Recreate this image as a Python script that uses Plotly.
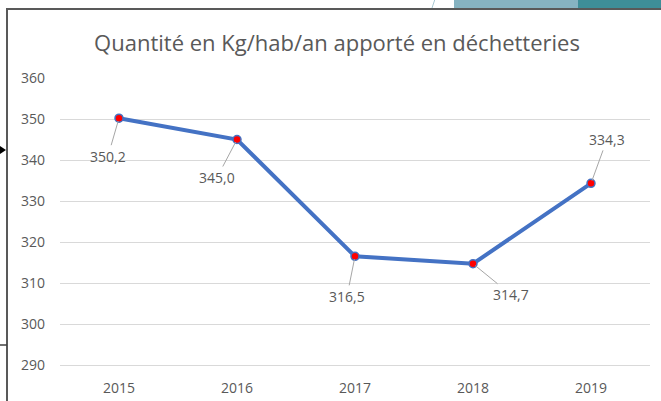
import plotly.graph_objects as go

years = ["2015", "2016", "2017", "2018", "2019"]
values = [350.2, 345.0, 316.5, 314.7, 334.3]
labels = ["350,2", "345,0", "316,5", "314,7", "334,3"]
# label offsets (pixels) from point
offs_x = [-11, -20, -8, 38, 16]
offs_y = [38, 38, 40, 31, -44]

W, H = 661, 401
ML, MR, MT, MB = 60, 11, 78, 36
PW, PH = W - ML - MR, H - MT - MB

def px(x):
    return (x - ML) / PW

def py(y):
    return (H - MB - y) / PH

FONT = "Open Sans"
GREY = "#595959"

fig = go.Figure()
fig.add_trace(go.Scatter(
    x=years, y=values, mode="lines+markers",
    line=dict(color="#4472C4", width=4),
    marker=dict(color="#FF0000", size=8, line=dict(color="#4472C4", width=1.5)),
    hoverinfo="skip", showlegend=False,
))

for i, (y, t, ox, oy) in enumerate(zip(values, labels, offs_x, offs_y)):
    fig.add_annotation(x=i, y=y, xref="x", yref="y", text=t, showarrow=True,
                       arrowhead=0, arrowwidth=1, arrowcolor="#a6a6a6",
                       ax=ox, ay=oy,
                       font=dict(family=FONT, size=14, color=GREY), standoff=3)

shapes = [
    # chart border
    dict(type="rect", xref="paper", yref="paper",
         x0=px(7), x1=px(700), y0=py(440), y1=py(9),
         line=dict(color="#595959", width=2), fillcolor="rgba(0,0,0,0)", layer="below"),
    # decorative strip top-right
    dict(type="rect", xref="paper", yref="paper",
         x0=px(454), x1=px(578), y0=py(8), y1=py(-2),
         line=dict(width=0), fillcolor="#86b3c1", layer="below"),
    dict(type="rect", xref="paper", yref="paper",
         x0=px(578), x1=px(662), y0=py(8), y1=py(-2),
         line=dict(width=0), fillcolor="#3e8e98", layer="below"),
    dict(type="line", xref="paper", yref="paper",
         x0=px(432), x1=px(435), y0=py(8), y1=py(-1),
         line=dict(color="#a9c8d3", width=1)),
    # left side arrow and line
    dict(type="path", xref="paper", yref="paper",
         path=f"M {px(0)} {py(146)} L {px(6)} {py(150)} L {px(0)} {py(154)} Z",
         fillcolor="#000000", line=dict(width=0)),
    dict(type="line", xref="paper", yref="paper",
         x0=px(0), x1=px(7), y0=py(345), y1=py(345),
         line=dict(color="#404040", width=1.5)),
]

fig.update_layout(
    width=W, height=H,
    margin=dict(l=ML, r=MR, t=MT, b=MB, autoexpand=False),
    paper_bgcolor="white", plot_bgcolor="white",
    font=dict(family=FONT, color=GREY),
    title=dict(text="Quantité en Kg/hab/an apporté en déchetteries",
               x=(337) / W, xanchor="center", y=1 - 43 / H, yanchor="middle",
               font=dict(family=FONT, size=22, color=GREY)),
    xaxis=dict(type="category", range=[-0.5, 4.5], showgrid=False,
               showline=True, linecolor="#d9d9d9", linewidth=1, automargin=False,
               zeroline=False, ticks="", tickfont=dict(size=14, color=GREY),
               ticklabelstandoff=10),
    yaxis=dict(range=[290, 360], dtick=10, tick0=290, showgrid=True, automargin=False,
               gridcolor="#d9d9d9", gridwidth=1, zeroline=False, showline=False,
               ticks="", tickfont=dict(size=14, color=GREY), ticklabelstandoff=14),
    shapes=shapes,
)

fig.write_html("out.html", config={"displayModeBar": False},
               post_script="document.body.style.margin='0';")
